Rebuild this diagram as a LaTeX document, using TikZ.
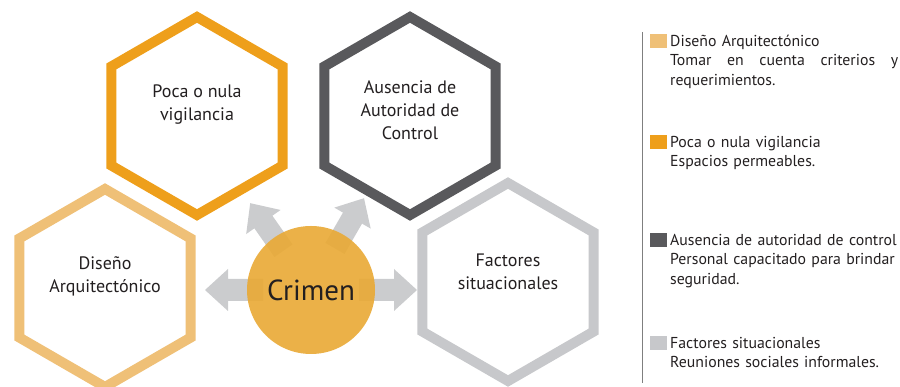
\documentclass[tikz,border=0pt]{standalone}
\usepackage{fontspec}
\setmainfont{PT Sans}
\usetikzlibrary{positioning,shapes.geometric}

\definecolor{disenoC}{HTML}{EFC077}
\definecolor{pocaC}{HTML}{EE9F1B}
\definecolor{ausenciaC}{HTML}{59595C}
\definecolor{factoresC}{HTML}{C7C8CB}
\definecolor{crimenC}{HTML}{E9A934}
\definecolor{flechaC}{HTML}{CBCCCE}
\definecolor{lineaC}{HTML}{7F7F7F}
\definecolor{textoC}{HTML}{231F20}

\begin{document}
\begin{tikzpicture}[x=1pt,y=1pt,
	hexa/.style={regular polygon, regular polygon sides=6, shape border rotate=30, minimum size=198pt, inner sep=0pt, line width=10pt, line join=miter, fill=white},
	hextext/.style={align=center, text=textoC, font=\fontsize{18}{23}\selectfont},
	flecha/.style={fill=flechaC},
	keybox/.style={minimum width=17pt, minimum height=14pt, inner sep=0pt, anchor=east},
	legtext/.style={anchor=base west, text width=245pt, align=left, inner sep=0pt, text=textoC, font=\fontsize{15.8}{19.5}\selectfont}]
	\useasboundingbox (0,0) rectangle (900,387);

	% hexagonos
	\node[hexa, draw=pocaC] (poca) at (197,271) {};
	\node[hexa, draw=ausenciaC] (ausencia) at (410,271) {};
	\node[hexa, draw=disenoC] (diseno) at (105,99) {};
	\node[hexa, draw=factoresC] (factores) at (508,105) {};
	\node[hextext] (pocaT) at ([yshift=11pt]poca.center) {Poca o nula\\vigilancia};
	\node[hextext] (ausenciaT) at ([yshift=6pt]ausencia.center) {Ausencia de\\Autoridad de\\Control};
	\node[hextext] (disenoT) at ([yshift=12pt]diseno.center) {Diseño\\Arquitectónico};
	\node[hextext] (factoresT) at ([yshift=10pt]factores.center) {Factores\\situacionales};

	% flechas y circulo
	\coordinate (centro) at (311,97);
	\foreach \a in {0,60,125,180}
		\fill[flecha, shift={(centro)}, rotate=\a] (48,-11) -- (83,-11) -- (83,-21) -- (106,0) -- (83,21) -- (83,11) -- (48,11) -- cycle;
	\node[circle, fill=crimenC, fill opacity=0.9, text opacity=1, minimum size=128pt, inner sep=0pt, font=\fontsize{29}{31}\selectfont, text=textoC] (crimen) at (centro) {Crimen};

	% leyenda
	\coordinate (lineaA) at (642.5,355);
	\coordinate (lineaB) at (642.5,4);
	\draw[lineaC, line width=1.3pt] (lineaA) -- (lineaB);
	\node[legtext] (leg1) at (670,340.5) {Diseño Arquitectónico\\\leavevmode\hbox to 228pt{Tomar\hfill en\hfill cuenta\hfill criterios\hfill y}\\requerimientos.};
	\node[legtext] (leg2) at (670,239.5) {Poca o nula vigilancia\\Espacios permeables.};
	\node[legtext] (leg3) at (670,141.5) {Ausencia de autoridad de control\\Personal capacitado para brindar\\seguridad.};
	\node[legtext] (leg4) at (670,38.5) {Factores situacionales\\Reuniones sociales informales.};
	\node[keybox, fill=disenoC] (key1) at ([xshift=-3pt,yshift=5pt]leg1.base west) {};
	\node[keybox, fill=pocaC] (key2) at ([xshift=-3pt,yshift=5pt]leg2.base west) {};
	\node[keybox, fill=ausenciaC] (key3) at ([xshift=-3pt,yshift=5pt]leg3.base west) {};
	\node[keybox, fill=factoresC] (key4) at ([xshift=-3pt,yshift=5pt]leg4.base west) {};
\end{tikzpicture}
\end{document}
